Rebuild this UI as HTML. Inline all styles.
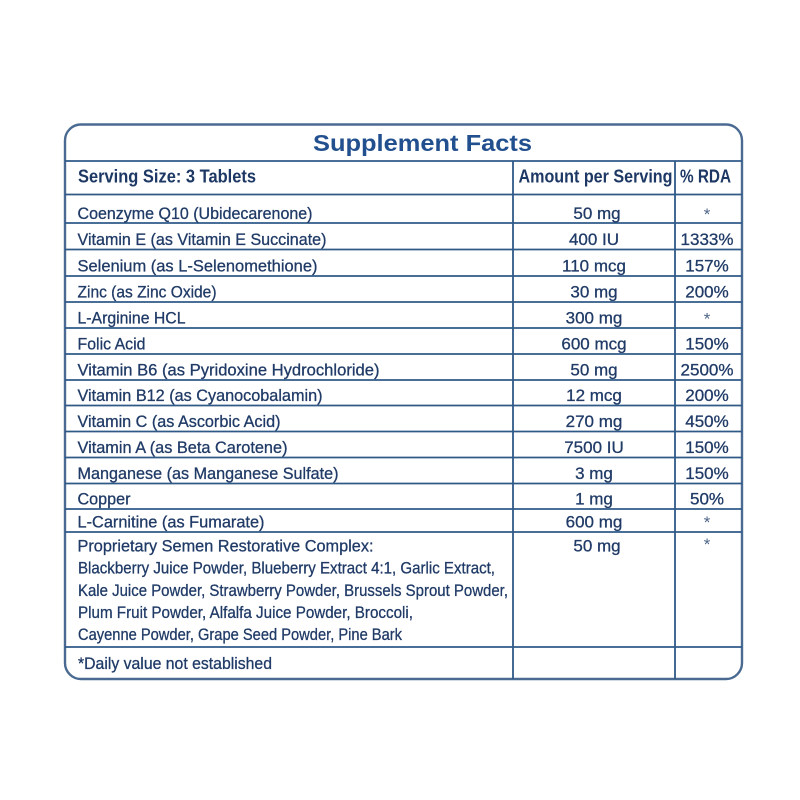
<!DOCTYPE html>
<html>
<head>
<meta charset="utf-8">
<style>
  html, body { margin: 0; padding: 0; background: #ffffff; }
  body { width: 800px; height: 800px; overflow: hidden; }
  svg { display: block; }
  text { font-family: "Liberation Sans", "DejaVu Sans", sans-serif; }
  .t { font-size: 17px; fill: #203b67; stroke: #203b67; stroke-width: 0.3; }
  .h { font-size: 18.5px; font-weight: bold; fill: #1d3864; }
  .ttl { font-size: 23px; font-weight: bold; fill: #22508f; }
  .ast { font-size: 17px; fill: #4f6689; }
</style>
</head>
<body>
<svg width="800" height="800" viewBox="0 0 800 800" xmlns="http://www.w3.org/2000/svg">
  <rect x="0" y="0" width="800" height="800" fill="#ffffff"/>

  <!-- outer rounded box -->
  <rect x="65" y="124.5" width="677" height="554.5" rx="16" ry="16" fill="none" stroke="#4a6a92" stroke-width="2.4"/>

  <!-- horizontal lines -->
  <g stroke="#2f5a88" stroke-width="1.8">
    <line x1="65" y1="161" x2="742" y2="161"/>
    <line x1="65" y1="194.5" x2="742" y2="194.5"/>
    <line x1="65" y1="223" x2="742" y2="223"/>
    <line x1="65" y1="249.5" x2="742" y2="249.5"/>
    <line x1="65" y1="276" x2="742" y2="276"/>
    <line x1="65" y1="302" x2="742" y2="302"/>
    <line x1="65" y1="328" x2="742" y2="328"/>
    <line x1="65" y1="354" x2="742" y2="354"/>
    <line x1="65" y1="380" x2="742" y2="380"/>
    <line x1="65" y1="405.5" x2="742" y2="405.5"/>
    <line x1="65" y1="431.5" x2="742" y2="431.5"/>
    <line x1="65" y1="457.5" x2="742" y2="457.5"/>
    <line x1="65" y1="483.5" x2="742" y2="483.5"/>
    <line x1="65" y1="509" x2="742" y2="509"/>
    <line x1="65" y1="532" x2="742" y2="532"/>
    <line x1="65" y1="647" x2="742" y2="647"/>
    <!-- vertical lines -->
    <line x1="513" y1="161" x2="513" y2="679"/>
    <line x1="675" y1="161" x2="675" y2="679"/>
  </g>

  <!-- title -->
  <text class="ttl" x="313" y="151" textLength="219" lengthAdjust="spacingAndGlyphs">Supplement Facts</text>

  <!-- header -->
  <text class="h" x="78" y="182.5" textLength="178" lengthAdjust="spacingAndGlyphs">Serving Size: 3 Tablets</text>
  <text class="h" x="518.5" y="182.5" textLength="154" lengthAdjust="spacingAndGlyphs">Amount per Serving</text>
  <text class="h" x="680" y="182.5" textLength="51" lengthAdjust="spacingAndGlyphs">% RDA</text>

  <!-- left column -->
  <g>
    <text class="t" x="77.5" y="219" textLength="235" lengthAdjust="spacingAndGlyphs">Coenzyme Q10 (Ubidecarenone)</text>
    <text class="t" x="77.5" y="245" textLength="249" lengthAdjust="spacingAndGlyphs">Vitamin E (as Vitamin E Succinate)</text>
    <text class="t" x="77.5" y="271.5" textLength="240" lengthAdjust="spacingAndGlyphs">Selenium (as L-Selenomethione)</text>
    <text class="t" x="77.5" y="297.5" textLength="139" lengthAdjust="spacingAndGlyphs">Zinc (as Zinc Oxide)</text>
    <text class="t" x="77.5" y="323.5" textLength="108" lengthAdjust="spacingAndGlyphs">L-Arginine HCL</text>
    <text class="t" x="77.5" y="349.5" textLength="68" lengthAdjust="spacingAndGlyphs">Folic Acid</text>
    <text class="t" x="77.5" y="375.5" textLength="302" lengthAdjust="spacingAndGlyphs">Vitamin B6 (as Pyridoxine Hydrochloride)</text>
    <text class="t" x="77.5" y="401" textLength="245" lengthAdjust="spacingAndGlyphs">Vitamin B12 (as Cyanocobalamin)</text>
    <text class="t" x="77.5" y="427" textLength="203" lengthAdjust="spacingAndGlyphs">Vitamin C (as Ascorbic Acid)</text>
    <text class="t" x="77.5" y="453" textLength="210" lengthAdjust="spacingAndGlyphs">Vitamin A (as Beta Carotene)</text>
    <text class="t" x="77.5" y="479" textLength="261" lengthAdjust="spacingAndGlyphs">Manganese (as Manganese Sulfate)</text>
    <text class="t" x="77.5" y="504.5" textLength="53" lengthAdjust="spacingAndGlyphs">Copper</text>
    <text class="t" x="77.5" y="527.5" textLength="187" lengthAdjust="spacingAndGlyphs">L-Carnitine (as Fumarate)</text>

    <text class="t" x="77.5" y="551.5" textLength="296" lengthAdjust="spacingAndGlyphs">Proprietary Semen Restorative Complex:</text>
    <text class="t" x="78" y="573.5" textLength="417" lengthAdjust="spacingAndGlyphs">Blackberry Juice Powder, Blueberry Extract 4:1, Garlic Extract,</text>
    <text class="t" x="78" y="596" textLength="430" lengthAdjust="spacingAndGlyphs">Kale Juice Powder, Strawberry Powder, Brussels Sprout Powder,</text>
    <text class="t" x="78" y="618" textLength="335" lengthAdjust="spacingAndGlyphs">Plum Fruit Powder, Alfalfa Juice Powder, Broccoli,</text>
    <text class="t" x="78" y="640" textLength="324" lengthAdjust="spacingAndGlyphs">Cayenne Powder, Grape Seed Powder, Pine Bark</text>
    <text class="t" x="78" y="669" textLength="194" lengthAdjust="spacingAndGlyphs">*Daily value not established</text>
  </g>

  <!-- amount column -->
  <g text-anchor="middle">
    <text class="t" x="597" y="219">50 mg</text>
    <text class="t" x="594" y="245">400 IU</text>
    <text class="t" x="594" y="271.5">110 mcg</text>
    <text class="t" x="594" y="297.5">30 mg</text>
    <text class="t" x="594" y="323.5">300 mg</text>
    <text class="t" x="594" y="349.5">600 mcg</text>
    <text class="t" x="594" y="375.5">50 mg</text>
    <text class="t" x="594" y="401">12 mcg</text>
    <text class="t" x="594" y="427">270 mg</text>
    <text class="t" x="594" y="453">7500 IU</text>
    <text class="t" x="594" y="479">3 mg</text>
    <text class="t" x="594" y="504.5">1 mg</text>
    <text class="t" x="594" y="527.5">600 mg</text>
    <text class="t" x="597" y="551.5">50 mg</text>
  </g>

  <!-- RDA column -->
  <g text-anchor="middle">
    <text class="ast" x="707" y="220">*</text>
    <text class="t" x="707" y="245">1333%</text>
    <text class="t" x="707" y="271.5">157%</text>
    <text class="t" x="707" y="297.5">200%</text>
    <text class="ast" x="707" y="324.5">*</text>
    <text class="t" x="707" y="349.5">150%</text>
    <text class="t" x="707" y="375.5">2500%</text>
    <text class="t" x="707" y="401">200%</text>
    <text class="t" x="707" y="427">450%</text>
    <text class="t" x="707" y="453">150%</text>
    <text class="t" x="707" y="479">150%</text>
    <text class="t" x="707" y="504.5">50%</text>
    <text class="ast" x="707" y="528">*</text>
    <text class="ast" x="707" y="550">*</text>
  </g>
</svg>
</body>
</html>
